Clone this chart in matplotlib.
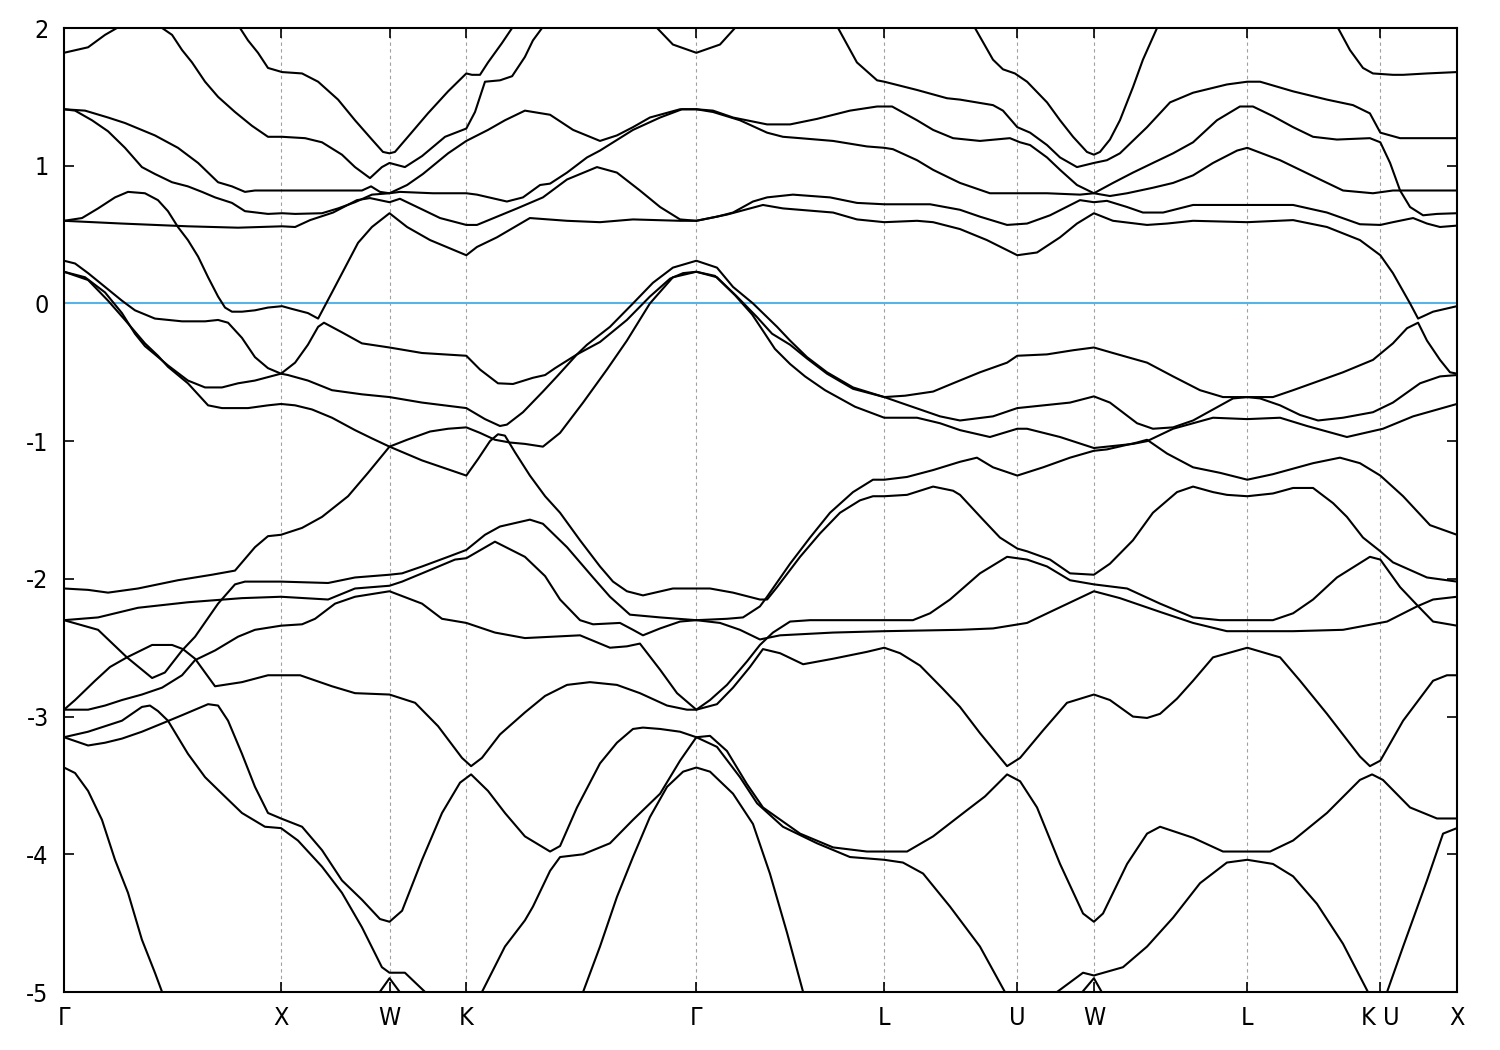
import matplotlib
matplotlib.use("Agg")
import matplotlib.pyplot as plt

# High-symmetry points along the k-path (units of 2*pi/a)
kpath_pos = [0.0, 1.0, 1.5, 1.8536, 2.9142, 3.7802, 4.3926, 4.7462, 5.4533, 6.0657, 6.4193]
kpath_lab = ["Γ", "X", "W", "K", "Γ", "L", "U", "W", "L", "K U", "X"]

# Bands: (k, E) pairs, E in eV relative to E_F
band_01 = [(0, 1.82), (0.111, 1.86), (0.189, 1.95), (0.244, 2.0), (0.35, 2.12), (0.452, 2.0), (0.498, 1.95),
           (0.544, 1.84), (0.59, 1.75), (0.65, 1.61), (0.71, 1.5), (0.788, 1.39), (0.866, 1.29), (0.94, 1.21),
           (1.005, 1.21), (1.111, 1.2), (1.189, 1.17), (1.281, 1.08), (1.341, 0.99), (1.41, 0.91), (1.465, 0.99),
           (1.5, 1.02), (1.571, 0.99), (1.65, 1.07), (1.756, 1.21), (1.854, 1.27), (1.894, 1.39), (1.94, 1.61),
           (2.009, 1.62), (2.065, 1.65), (2.124, 1.79), (2.161, 1.91), (2.203, 2.0), (2.263, 2.15)]
band_02 = [(0.765, 2.15), (0.811, 2.0), (0.848, 1.91), (0.894, 1.82), (0.94, 1.71), (1.005, 1.68), (1.097, 1.67),
           (1.171, 1.61), (1.263, 1.48), (1.341, 1.33), (1.419, 1.19), (1.47, 1.1), (1.5, 1.09), (1.525, 1.1),
           (1.585, 1.21), (1.677, 1.38), (1.77, 1.54), (1.854, 1.67), (1.88, 1.66), (1.917, 1.66), (1.954, 1.75),
           (2.018, 1.89), (2.065, 2.0), (2.124, 2.15)]
band_03 = [(2.677, 2.15), (2.733, 2.0), (2.806, 1.88), (2.914, 1.82), (3.023, 1.88), (3.092, 2.0), (3.152, 2.15)]
band_04 = [(3.507, 2.15), (3.567, 2.0), (3.654, 1.75), (3.747, 1.62), (3.78, 1.61), (3.931, 1.55), (4.069, 1.49),
           (4.129, 1.48), (4.281, 1.44), (4.327, 1.4), (4.393, 1.28), (4.452, 1.24), (4.53, 1.15), (4.59, 1.06),
           (4.668, 0.99), (4.746, 1.02), (4.806, 1.04), (4.866, 1.09), (4.991, 1.28), (5.097, 1.46), (5.203, 1.53),
           (5.359, 1.59), (5.453, 1.61), (5.512, 1.61), (5.664, 1.54), (5.82, 1.48), (5.94, 1.44), (6.018, 1.38),
           (6.066, 1.24), (6.157, 1.2), (6.419, 1.2)]
band_05 = [(4.175, 2.15), (4.198, 2.0), (4.281, 1.77), (4.327, 1.7), (4.382, 1.67), (4.438, 1.61), (4.53, 1.46),
           (4.59, 1.33), (4.65, 1.21), (4.714, 1.1), (4.746, 1.08), (4.774, 1.1), (4.82, 1.19), (4.866, 1.33),
           (4.926, 1.57), (4.972, 1.77), (5.037, 2.0), (5.074, 2.15)]
band_06 = [(5.834, 2.15), (5.871, 2.0), (5.926, 1.84), (5.986, 1.71), (6.032, 1.67), (6.124, 1.66), (6.171, 1.66),
           (6.281, 1.67), (6.419, 1.68)]
band_07 = [(0, 1.41), (0.097, 1.4), (0.203, 1.35), (0.281, 1.31), (0.419, 1.22), (0.525, 1.13), (0.618, 1.02),
           (0.71, 0.88), (0.774, 0.85), (0.834, 0.81), (0.88, 0.82), (1.005, 0.82), (1.235, 0.82), (1.373, 0.82),
           (1.415, 0.85), (1.456, 0.81), (1.5, 0.8), (1.548, 0.81), (1.7, 0.8), (1.854, 0.8), (1.903, 0.79),
           (2.041, 0.74), (2.115, 0.77), (2.194, 0.86), (2.24, 0.87), (2.318, 0.95), (2.41, 1.06), (2.47, 1.11),
           (2.622, 1.26), (2.747, 1.35), (2.848, 1.41), (2.914, 1.41), (2.991, 1.39), (3.115, 1.33), (3.24, 1.24),
           (3.313, 1.21), (3.392, 1.2), (3.544, 1.18), (3.7, 1.14), (3.78, 1.13), (3.82, 1.12), (3.931, 1.04),
           (4.005, 0.97), (4.083, 0.91), (4.129, 0.875), (4.267, 0.8), (4.393, 0.8), (4.53, 0.8), (4.682, 0.79),
           (4.746, 0.8), (4.82, 0.78), (4.899, 0.8), (5.018, 0.84), (5.111, 0.875), (5.203, 0.93), (5.295, 1.02),
           (5.406, 1.11), (5.453, 1.13), (5.604, 1.04), (5.696, 0.97), (5.788, 0.9), (5.894, 0.82), (6.032, 0.8),
           (6.124, 0.82), (6.419, 0.82)]
band_08 = [(0, 1.41), (0.051, 1.4), (0.129, 1.33), (0.203, 1.25), (0.281, 1.13), (0.359, 0.99), (0.419, 0.94),
           (0.498, 0.88), (0.571, 0.85), (0.636, 0.81), (0.696, 0.77), (0.774, 0.73), (0.834, 0.67), (0.94, 0.65),
           (1.005, 0.655), (1.065, 0.65), (1.189, 0.655), (1.263, 0.69), (1.341, 0.735), (1.419, 0.79), (1.5, 0.8),
           (1.581, 0.86), (1.654, 0.94), (1.77, 1.09), (1.854, 1.18), (1.954, 1.26), (2.032, 1.33), (2.124, 1.4),
           (2.24, 1.37), (2.346, 1.26), (2.47, 1.18), (2.548, 1.22), (2.622, 1.28), (2.7, 1.35), (2.839, 1.41),
           (2.914, 1.41), (2.991, 1.4), (3.083, 1.35), (3.24, 1.3), (3.346, 1.3), (3.47, 1.34), (3.622, 1.4),
           (3.747, 1.43), (3.816, 1.43), (3.931, 1.33), (4.005, 1.26), (4.097, 1.2), (4.221, 1.18), (4.359, 1.2),
           (4.406, 1.17), (4.452, 1.15), (4.53, 1.06), (4.59, 0.97), (4.668, 0.86), (4.746, 0.8), (4.834, 0.875),
           (4.926, 0.95), (5.018, 1.02), (5.111, 1.09), (5.203, 1.17), (5.313, 1.33), (5.419, 1.43), (5.479, 1.43),
           (5.571, 1.36), (5.664, 1.28), (5.756, 1.21), (5.866, 1.19), (6.018, 1.2), (6.066, 1.17), (6.111, 1.02),
           (6.157, 0.82), (6.203, 0.7), (6.263, 0.64), (6.327, 0.65), (6.419, 0.655)]
band_09 = [(0, 0.6), (0.083, 0.62), (0.157, 0.69), (0.235, 0.77), (0.295, 0.81), (0.373, 0.8), (0.433, 0.75),
           (0.479, 0.67), (0.525, 0.555), (0.571, 0.46), (0.618, 0.34), (0.664, 0.19), (0.71, 0.05), (0.742, -0.03),
           (0.774, -0.06), (0.82, -0.06), (0.88, -0.05), (0.94, -0.03), (1.005, -0.02), (1.051, -0.04),
           (1.124, -0.07), (1.171, -0.11), (1.235, 0.08), (1.295, 0.26), (1.355, 0.44), (1.419, 0.555), (1.5, 0.655),
           (1.581, 0.555), (1.687, 0.46), (1.854, 0.35), (1.903, 0.41), (1.995, 0.48), (2.147, 0.62), (2.318, 0.6),
           (2.47, 0.59), (2.622, 0.61), (2.839, 0.6), (2.914, 0.6), (3.009, 0.63), (3.083, 0.66), (3.175, 0.74),
           (3.24, 0.77), (3.359, 0.79), (3.53, 0.77), (3.654, 0.73), (3.78, 0.72), (3.991, 0.72), (4.129, 0.68),
           (4.221, 0.63), (4.346, 0.57), (4.438, 0.58), (4.544, 0.64), (4.682, 0.75), (4.746, 0.735), (4.806, 0.745),
           (4.899, 0.7), (4.972, 0.66), (5.065, 0.66), (5.203, 0.715), (5.453, 0.715), (5.664, 0.715), (5.82, 0.66),
           (5.972, 0.575), (6.066, 0.57), (6.124, 0.59), (6.217, 0.62), (6.281, 0.58), (6.341, 0.555), (6.419, 0.565)]
band_10 = [(0, 0.6), (0.267, 0.58), (0.571, 0.56), (0.802, 0.55), (1.005, 0.56), (1.065, 0.555), (1.134, 0.605),
           (1.24, 0.66), (1.35, 0.75), (1.41, 0.765), (1.5, 0.735), (1.548, 0.76), (1.654, 0.68), (1.733, 0.62),
           (1.854, 0.57), (1.903, 0.57), (2.088, 0.69), (2.207, 0.77), (2.318, 0.9), (2.456, 0.99), (2.548, 0.95),
           (2.654, 0.82), (2.747, 0.7), (2.839, 0.61), (2.914, 0.6), (3.055, 0.645), (3.221, 0.715), (3.313, 0.69),
           (3.544, 0.66), (3.654, 0.61), (3.78, 0.59), (3.931, 0.6), (4.005, 0.59), (4.129, 0.54), (4.253, 0.46),
           (4.393, 0.35), (4.484, 0.37), (4.59, 0.48), (4.668, 0.58), (4.746, 0.655), (4.834, 0.6), (4.991, 0.57),
           (5.083, 0.58), (5.203, 0.6), (5.453, 0.59), (5.664, 0.605), (5.82, 0.555), (5.972, 0.46), (6.066, 0.35),
           (6.124, 0.22), (6.203, 0.0), (6.24, -0.11), (6.309, -0.06), (6.419, -0.02)]
band_11 = [(0, 0.31), (0.051, 0.29), (0.111, 0.22), (0.189, 0.12), (0.267, 0.02), (0.327, -0.05), (0.419, -0.11),
           (0.544, -0.13), (0.65, -0.13), (0.71, -0.12), (0.756, -0.14), (0.82, -0.25), (0.88, -0.39), (0.94, -0.47),
           (1.0, -0.51), (1.065, -0.43), (1.124, -0.3), (1.171, -0.17), (1.198, -0.14), (1.281, -0.21),
           (1.373, -0.29), (1.5, -0.32), (1.65, -0.36), (1.854, -0.38), (1.917, -0.48), (2.0, -0.58), (2.069, -0.585),
           (2.161, -0.54), (2.217, -0.52), (2.263, -0.47), (2.364, -0.37), (2.47, -0.28), (2.594, -0.12),
           (2.7, 0.05), (2.793, 0.18), (2.853, 0.22), (2.914, 0.23), (3.0, 0.2), (3.092, 0.06), (3.171, -0.08),
           (3.23, -0.22), (3.276, -0.33), (3.346, -0.44), (3.415, -0.53), (3.507, -0.63), (3.645, -0.75),
           (3.78, -0.83), (3.931, -0.83), (4.037, -0.87), (4.129, -0.92), (4.267, -0.97), (4.393, -0.91),
           (4.438, -0.91), (4.59, -0.97), (4.746, -1.05), (4.926, -1.02), (4.991, -1.0), (5.111, -0.91),
           (5.295, -0.83), (5.453, -0.84), (5.604, -0.83), (5.728, -0.89), (5.912, -0.97), (6.078, -0.91),
           (6.217, -0.82), (6.419, -0.73)]
band_12 = [(0, 0.23), (0.097, 0.19), (0.189, 0.08), (0.267, -0.07), (0.327, -0.22), (0.373, -0.31), (0.419, -0.37),
           (0.479, -0.45), (0.571, -0.56), (0.65, -0.61), (0.728, -0.61), (0.802, -0.58), (0.88, -0.56),
           (1.0, -0.51), (1.032, -0.52), (1.124, -0.56), (1.235, -0.63), (1.373, -0.66), (1.5, -0.68), (1.65, -0.72),
           (1.854, -0.76), (1.94, -0.84), (2.009, -0.89), (2.041, -0.88), (2.115, -0.79), (2.207, -0.64),
           (2.272, -0.53), (2.364, -0.37), (2.41, -0.3), (2.516, -0.17), (2.622, 0.0), (2.714, 0.15), (2.806, 0.26),
           (2.914, 0.31), (3.009, 0.26), (3.083, 0.12), (3.175, 0.0), (3.286, -0.17), (3.346, -0.27),
           (3.424, -0.39), (3.516, -0.5), (3.636, -0.61), (3.78, -0.68), (3.876, -0.67), (4.005, -0.64),
           (4.097, -0.58), (4.221, -0.5), (4.346, -0.43), (4.393, -0.38), (4.53, -0.37), (4.65, -0.34),
           (4.746, -0.32), (4.834, -0.36), (4.991, -0.43), (5.111, -0.53), (5.235, -0.63), (5.341, -0.68),
           (5.453, -0.68), (5.571, -0.68), (5.664, -0.63), (5.788, -0.56), (5.894, -0.5), (6.032, -0.41),
           (6.124, -0.29), (6.189, -0.18), (6.24, -0.14), (6.281, -0.27), (6.341, -0.41), (6.387, -0.5),
           (6.419, -0.51)]
band_13 = [(0, 0.23), (0.111, 0.17), (0.203, 0.02), (0.281, -0.12), (0.373, -0.29), (0.433, -0.38), (0.479, -0.46),
           (0.571, -0.58), (0.664, -0.74), (0.728, -0.76), (0.848, -0.76), (0.94, -0.74), (1.0, -0.73),
           (1.065, -0.74), (1.143, -0.77), (1.235, -0.83), (1.341, -0.92), (1.419, -0.98), (1.5, -1.04),
           (1.65, -1.14), (1.854, -1.25), (1.908, -1.13), (1.963, -1.0), (2.0, -0.95), (2.032, -0.96),
           (2.078, -1.08), (2.147, -1.25), (2.217, -1.4), (2.286, -1.52), (2.378, -1.72), (2.47, -1.91),
           (2.53, -2.02), (2.594, -2.09), (2.668, -2.12), (2.806, -2.07), (2.914, -2.07), (2.977, -2.07),
           (3.083, -2.1), (3.207, -2.15), (3.24, -2.15), (3.286, -2.06), (3.392, -1.84), (3.484, -1.67),
           (3.576, -1.52), (3.668, -1.43), (3.728, -1.4), (3.78, -1.4), (3.885, -1.39), (4.005, -1.33),
           (4.097, -1.36), (4.129, -1.39), (4.235, -1.57), (4.313, -1.7), (4.393, -1.78), (4.438, -1.8),
           (4.544, -1.86), (4.636, -1.96), (4.746, -1.97), (4.82, -1.89), (4.926, -1.72), (5.018, -1.52),
           (5.129, -1.37), (5.203, -1.33), (5.295, -1.37), (5.359, -1.39), (5.453, -1.4), (5.571, -1.38),
           (5.664, -1.34), (5.756, -1.34), (5.848, -1.45), (5.912, -1.55), (5.986, -1.7), (6.066, -1.8),
           (6.124, -1.88), (6.281, -1.99), (6.419, -2.02)]
band_14 = [(0, -2.07), (0.111, -2.08), (0.203, -2.1), (0.341, -2.07), (0.525, -2.01), (0.682, -1.97),
           (0.788, -1.94), (0.88, -1.77), (0.94, -1.69), (1.0, -1.68), (1.097, -1.63), (1.189, -1.55),
           (1.309, -1.4), (1.401, -1.23), (1.5, -1.04), (1.581, -0.99), (1.687, -0.93), (1.77, -0.91),
           (1.854, -0.9), (1.917, -0.94), (1.986, -0.99), (2.055, -1.01), (2.124, -1.02), (2.207, -1.04),
           (2.286, -0.94), (2.392, -0.72), (2.502, -0.48), (2.594, -0.27), (2.7, 0.0), (2.806, 0.19), (2.914, 0.23),
           (3.009, 0.19), (3.101, 0.05), (3.194, -0.1), (3.263, -0.22), (3.346, -0.3), (3.424, -0.4),
           (3.516, -0.51), (3.636, -0.62), (3.78, -0.68), (3.853, -0.72), (3.945, -0.77), (4.037, -0.82),
           (4.129, -0.85), (4.281, -0.82), (4.393, -0.76), (4.636, -0.72), (4.746, -0.675), (4.82, -0.72),
           (4.945, -0.87), (5.018, -0.91), (5.111, -0.9), (5.203, -0.85), (5.295, -0.77), (5.387, -0.69),
           (5.453, -0.68), (5.512, -0.69), (5.604, -0.74), (5.696, -0.81), (5.779, -0.85), (5.894, -0.83),
           (6.032, -0.79), (6.124, -0.72), (6.249, -0.58), (6.341, -0.53), (6.419, -0.52)]
band_15 = [(0, -2.3), (0.157, -2.37), (0.29, -2.57), (0.406, -2.72), (0.465, -2.68), (0.544, -2.52),
           (0.604, -2.42), (0.71, -2.18), (0.788, -2.04), (0.834, -2.02), (1.0, -2.02), (1.217, -2.03),
           (1.341, -1.99), (1.5, -1.97), (1.558, -1.96), (1.65, -1.91), (1.77, -1.84), (1.854, -1.79),
           (1.94, -1.68), (2.009, -1.62), (2.147, -1.57), (2.207, -1.6), (2.318, -1.77), (2.438, -1.99),
           (2.516, -2.13), (2.608, -2.26), (2.747, -2.28), (2.914, -2.3), (3.055, -2.29), (3.129, -2.28),
           (3.207, -2.2), (3.24, -2.13), (3.346, -1.89), (3.438, -1.7), (3.53, -1.52), (3.636, -1.37),
           (3.728, -1.28), (3.78, -1.28), (3.885, -1.26), (4.005, -1.21), (4.129, -1.15), (4.207, -1.12),
           (4.281, -1.19), (4.393, -1.25), (4.512, -1.19), (4.636, -1.12), (4.746, -1.07), (4.806, -1.06),
           (4.945, -1.01), (4.991, -0.99), (5.083, -1.09), (5.203, -1.19), (5.327, -1.23), (5.453, -1.28),
           (5.571, -1.24), (5.756, -1.16), (5.88, -1.12), (5.972, -1.16), (6.066, -1.25), (6.171, -1.4),
           (6.295, -1.61), (6.419, -1.68)]
band_16 = [(0, -2.3), (0.157, -2.28), (0.341, -2.21), (0.571, -2.17), (0.82, -2.14), (1.0, -2.13), (1.217, -2.15),
           (1.341, -2.07), (1.5, -2.05), (1.558, -2.02), (1.65, -1.96), (1.802, -1.86), (1.854, -1.85),
           (1.986, -1.73), (2.124, -1.84), (2.217, -1.98), (2.286, -2.15), (2.378, -2.3), (2.438, -2.33),
           (2.562, -2.32), (2.622, -2.37), (2.668, -2.41), (2.747, -2.36), (2.839, -2.31), (2.914, -2.3),
           (3.023, -2.32), (3.115, -2.37), (3.207, -2.44), (3.3, -2.41), (3.544, -2.39), (3.78, -2.38),
           (4.129, -2.37), (4.281, -2.36), (4.438, -2.32), (4.558, -2.23), (4.746, -2.09), (4.866, -2.14),
           (5.051, -2.24), (5.203, -2.32), (5.359, -2.38), (5.664, -2.38), (5.894, -2.37), (6.097, -2.31),
           (6.235, -2.2), (6.309, -2.15), (6.419, -2.13)]
band_17 = [(0, -2.95), (0.111, -2.95), (0.189, -2.92), (0.267, -2.88), (0.359, -2.84), (0.452, -2.79),
           (0.544, -2.7), (0.604, -2.59), (0.696, -2.52), (0.802, -2.42), (0.88, -2.37), (1.0, -2.34),
           (1.097, -2.33), (1.157, -2.29), (1.249, -2.18), (1.341, -2.13), (1.5, -2.09), (1.65, -2.18),
           (1.742, -2.29), (1.854, -2.32), (1.986, -2.39), (2.124, -2.43), (2.378, -2.41), (2.516, -2.5),
           (2.594, -2.49), (2.654, -2.47), (2.747, -2.66), (2.825, -2.83), (2.914, -2.95), (2.977, -2.88),
           (3.055, -2.77), (3.147, -2.6), (3.207, -2.48), (3.267, -2.39), (3.346, -2.31), (3.438, -2.3),
           (3.78, -2.3), (3.912, -2.3), (3.991, -2.25), (4.083, -2.15), (4.221, -1.96), (4.346, -1.84),
           (4.438, -1.86), (4.53, -1.91), (4.636, -2.01), (4.746, -2.04), (4.899, -2.07), (5.051, -2.18),
           (5.203, -2.28), (5.327, -2.3), (5.571, -2.3), (5.664, -2.25), (5.756, -2.15), (5.866, -1.99),
           (6.018, -1.84), (6.066, -1.86), (6.157, -2.06), (6.235, -2.19), (6.309, -2.31), (6.419, -2.34)]
band_18 = [(0, -2.95), (0.051, -2.88), (0.143, -2.74), (0.212, -2.64), (0.29, -2.57), (0.406, -2.48),
           (0.498, -2.48), (0.548, -2.51), (0.604, -2.58), (0.696, -2.78), (0.82, -2.75), (0.94, -2.7),
           (1.0, -2.7), (1.088, -2.7), (1.235, -2.78), (1.341, -2.83), (1.5, -2.84), (1.618, -2.9), (1.724, -3.07),
           (1.834, -3.3), (1.876, -3.36), (1.926, -3.3), (2.009, -3.13), (2.124, -2.97), (2.217, -2.85),
           (2.318, -2.77), (2.424, -2.75), (2.548, -2.77), (2.654, -2.83), (2.779, -2.92), (2.871, -2.95),
           (2.914, -2.95), (3.009, -2.91), (3.083, -2.79), (3.161, -2.64), (3.221, -2.51), (3.3, -2.54),
           (3.406, -2.62), (3.544, -2.58), (3.7, -2.53), (3.78, -2.5), (3.853, -2.54), (3.945, -2.63),
           (4.051, -2.8), (4.129, -2.93), (4.221, -3.12), (4.346, -3.36), (4.406, -3.3), (4.512, -3.1),
           (4.622, -2.9), (4.746, -2.84), (4.82, -2.88), (4.926, -3.0), (4.991, -3.01), (5.051, -2.98),
           (5.129, -2.87), (5.203, -2.74), (5.295, -2.57), (5.453, -2.5), (5.604, -2.57), (5.696, -2.74),
           (5.82, -2.98), (5.972, -3.29), (6.018, -3.36), (6.066, -3.32), (6.171, -3.03), (6.309, -2.74),
           (6.373, -2.7), (6.419, -2.7)]
band_19 = [(0, -3.15), (0.111, -3.11), (0.267, -3.03), (0.359, -2.93), (0.396, -2.92), (0.433, -2.96),
           (0.479, -3.03), (0.571, -3.27), (0.65, -3.44), (0.728, -3.56), (0.82, -3.7), (0.926, -3.8), (1.0, -3.81),
           (1.078, -3.9), (1.189, -4.09), (1.281, -4.28), (1.373, -4.53), (1.465, -4.82), (1.5, -4.86),
           (1.571, -4.86), (1.664, -5.0), (1.687, -5.08)]
band_20 = [(0, -3.15), (0.111, -3.21), (0.189, -3.19), (0.267, -3.16), (0.359, -3.11), (0.452, -3.05),
           (0.544, -2.99), (0.664, -2.91), (0.71, -2.92), (0.756, -3.03), (0.82, -3.27), (0.88, -3.51),
           (0.94, -3.7), (1.0, -3.74), (1.097, -3.8), (1.189, -3.97), (1.281, -4.19), (1.373, -4.33),
           (1.456, -4.47), (1.5, -4.49), (1.558, -4.41), (1.65, -4.04), (1.742, -3.7), (1.825, -3.48),
           (1.876, -3.42), (1.954, -3.54), (2.032, -3.7), (2.124, -3.87), (2.24, -3.98), (2.286, -3.94),
           (2.364, -3.66), (2.47, -3.34), (2.548, -3.19), (2.622, -3.09), (2.668, -3.08), (2.747, -3.09),
           (2.839, -3.11), (2.914, -3.15), (2.977, -3.14), (3.055, -3.25), (3.147, -3.49), (3.221, -3.66),
           (3.392, -3.85), (3.544, -3.95), (3.7, -3.98), (3.78, -3.98), (3.885, -3.98), (4.005, -3.87),
           (4.161, -3.68), (4.244, -3.58), (4.346, -3.42), (4.406, -3.47), (4.484, -3.66), (4.59, -4.07),
           (4.696, -4.43), (4.746, -4.49), (4.788, -4.43), (4.899, -4.07), (4.991, -3.85), (5.051, -3.8),
           (5.203, -3.88), (5.341, -3.98), (5.558, -3.98), (5.664, -3.9), (5.82, -3.7), (5.972, -3.46),
           (6.028, -3.42), (6.078, -3.46), (6.203, -3.66), (6.327, -3.74), (6.419, -3.74)]
band_21 = [(1.871, -5.08), (1.926, -5.0), (2.032, -4.67), (2.124, -4.48), (2.161, -4.38), (2.24, -4.12),
           (2.286, -4.02), (2.392, -4.0), (2.516, -3.92), (2.622, -3.75), (2.747, -3.56), (2.839, -3.32),
           (2.914, -3.15), (3.009, -3.22), (3.115, -3.44), (3.194, -3.63), (3.313, -3.8), (3.47, -3.92),
           (3.622, -4.02), (3.78, -4.04), (3.866, -4.06), (3.959, -4.14), (4.083, -4.38), (4.221, -4.67),
           (4.336, -5.0), (4.359, -5.08)]
band_22 = [(0, -3.37), (0.051, -3.41), (0.111, -3.54), (0.175, -3.75), (0.235, -4.04), (0.295, -4.28),
           (0.359, -4.62), (0.419, -4.86), (0.452, -5.0), (0.461, -5.08)]
band_23 = [(2.369, -5.08), (2.392, -5.0), (2.47, -4.67), (2.548, -4.31), (2.622, -4.02), (2.7, -3.73),
           (2.779, -3.51), (2.853, -3.4), (2.914, -3.37), (2.977, -3.4), (3.083, -3.56), (3.175, -3.78),
           (3.253, -4.14), (3.332, -4.57), (3.406, -5.0), (3.419, -5.08)]
band_24 = [(4.567, -5.08), (4.576, -5.0), (4.696, -4.86), (4.746, -4.88), (4.88, -4.82), (4.991, -4.67),
           (5.111, -4.46), (5.235, -4.21), (5.359, -4.06), (5.453, -4.04), (5.571, -4.07), (5.664, -4.16),
           (5.774, -4.36), (5.894, -4.65), (6.009, -5.0), (6.018, -5.08)]
band_25 = [(6.088, -5.08), (6.097, -5.0), (6.171, -4.67), (6.281, -4.19), (6.355, -3.85), (6.419, -3.81)]
band_26 = [(1.419, -5.08), (1.5, -4.9), (1.585, -5.08)]
band_27 = [(4.65, -5.08), (4.746, -4.9), (4.811, -5.08)]

bands = [band_01, band_02, band_03, band_04, band_05, band_06, band_07, band_08, band_09, band_10,
         band_11, band_12, band_13, band_14, band_15, band_16, band_17, band_18, band_19, band_20,
         band_21, band_22, band_23, band_24, band_25, band_26, band_27]

e_fermi = 0.0
y_ticks = [-5, -4, -3, -2, -1, 0, 1, 2]

fig = plt.figure(figsize=(15, 10.5), dpi=100)
ax = fig.add_axes([64 / 1500, 1 - 992 / 1050, (1457 - 64) / 1500, (992 - 28) / 1050])

# vertical guides at the inner high-symmetry points
for k in kpath_pos[1:-1]:
    ax.axvline(k, color="#a0a0a0", lw=0.8, ls=(0, (3, 3)), zorder=1)

ax.axhline(e_fermi, color="#56b4e9", lw=1.5, zorder=2)

for b in bands:
    ks = [p[0] for p in b]
    es = [p[1] for p in b]
    ax.plot(ks, es, color="black", lw=1.5, zorder=3)

ax.set_xlim(kpath_pos[0], kpath_pos[-1])
ax.set_ylim(-5, 2)

ax.set_yticks(y_ticks)
ax.set_yticklabels([str(v) for v in y_ticks])
ax.set_xticks(kpath_pos)
ax.set_xticklabels(kpath_lab)

ax.tick_params(axis="both", direction="in", length=7, width=1.2, top=True, right=True,
               labelsize=18, colors="black")
ax.tick_params(axis="x", pad=10)
ax.tick_params(axis="y", pad=11)
for lab in ax.get_xticklabels() + ax.get_yticklabels():
    lab.set_fontfamily(["Liberation Sans Narrow", "DejaVu Sans"])
    lab.set_fontstretch("condensed")

for s in ax.spines.values():
    s.set_linewidth(1.5)

fig.savefig("out.png", dpi=100)
